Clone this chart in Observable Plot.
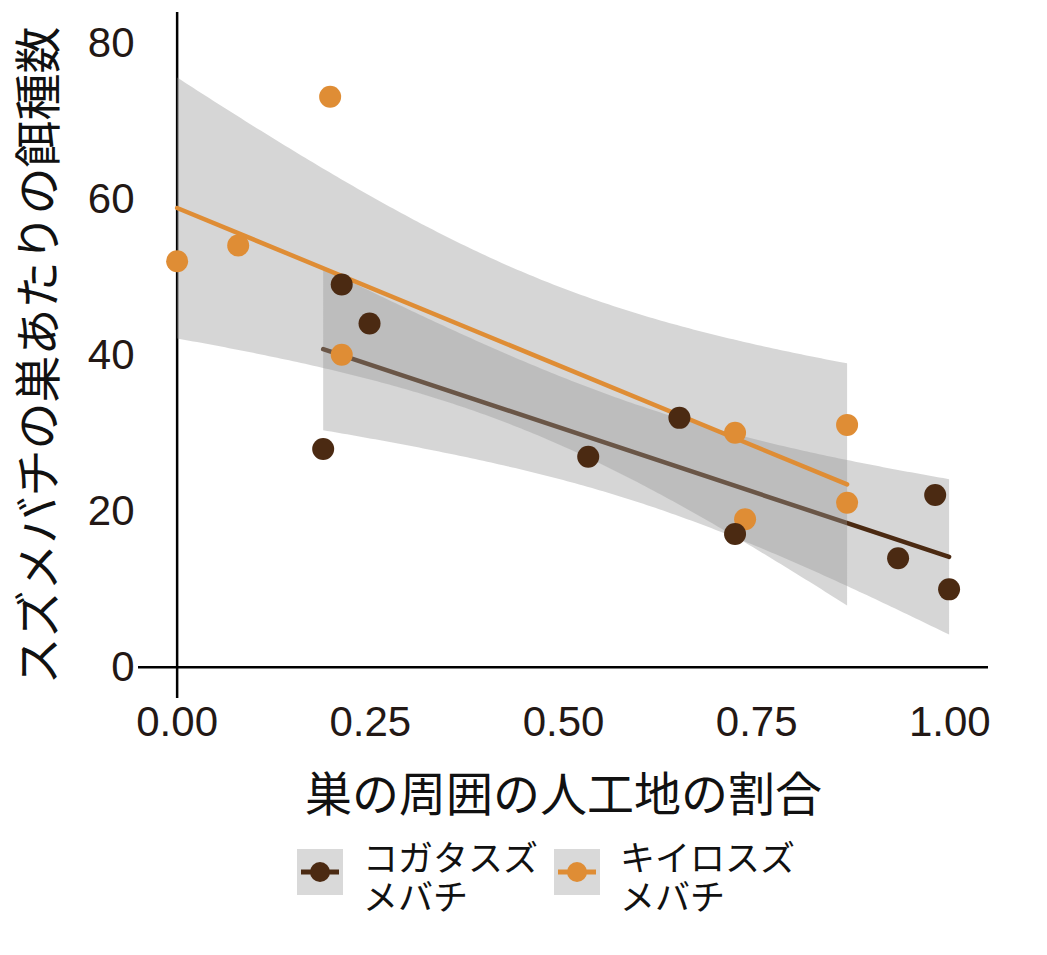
<!DOCTYPE html>
<html>
<head>
<meta charset="utf-8">
<script src="https://cdn.jsdelivr.net/npm/d3@7"></script>
<script src="https://cdn.jsdelivr.net/npm/@observablehq/plot@0.6"></script>
<style>
  body { margin: 0; background: #fff; font-family: "Liberation Sans", "Noto Sans CJK JP", sans-serif; }
  #chart svg { display: block; }
  #legend { display: flex; align-items: flex-start; padding-left: 297px; margin-top: 9px; font-family: "Noto Sans CJK JP", sans-serif; font-size: 35px; line-height: 39px; color: #111; }
  .item { display: flex; align-items: flex-start; }
  .item svg { margin-right: 20px; flex: none; }
  .item div { margin-top: -13px; }
  .item + .item { margin-left: 16px; }
</style>
</head>
<body>
<div id="chart"></div>
<div id="legend"></div>
<script>
const species = ["コガタスズメバチ", "キイロスズメバチ"];
const legendLines = [["コガタスズ", "メバチ"], ["キイロスズ", "メバチ"]];
const colors = ["#4B2A12", "#DF8D35"];

// コガタスズメバチ
const kogataX = [0.189, 0.213, 0.249, 0.532, 0.650, 0.722, 0.933, 0.981, 0.999];
const kogataY = [28.0, 49.1, 44.1, 27.0, 32.0, 17.1, 14.0, 22.1, 10.0];
// キイロスズメバチ
const kiiroX = [0.000, 0.079, 0.198, 0.213, 0.722, 0.735, 0.867, 0.867];
const kiiroY = [52.1, 54.1, 73.2, 40.1, 30.1, 19.0, 31.1, 21.1];

const xTicks = [0, 0.25, 0.5, 0.75, 1];
const yTicks = [0, 20, 40, 60, 80];
const xTitle = "巣の周囲の人工地の割合";
const yTitle = "スズメバチの巣あたりの餌種数";

const kogata = kogataX.map((x, i) => ({x, y: kogataY[i], species: species[0]}));
const kiiro = kiiroX.map((x, i) => ({x, y: kiiroY[i], species: species[1]}));
const all = [...kogata, ...kiiro];

const plot = Plot.plot({
  width: 1047,
  height: 840,
  marginLeft: 138,
  marginRight: 59,
  marginTop: 12,
  marginBottom: 142,
  style: {fontFamily: "'Liberation Sans', 'Noto Sans CJK JP', sans-serif", fontSize: "42px", color: "#231815", background: "#fff"},
  x: {domain: [-0.05, 1.05]},
  y: {domain: [-4, 84]},
  color: {domain: species, range: colors},
  marks: [
    Plot.ruleX([0], {stroke: "#000", strokeWidth: 2.5}),
    Plot.ruleY([0], {stroke: "#000", strokeWidth: 2.5}),
    Plot.linearRegressionY(all, {x: "x", y: "y", stroke: "species", fill: "#999999", fillOpacity: 0.4, strokeWidth: 4.5, ci: 0.95}),
    Plot.dot(kiiro, {x: "x", y: "y", fill: "species", r: 11}),
    Plot.dot(kogata, {x: "x", y: "y", fill: "species", r: 11}),
    Plot.axisX({ticks: xTicks, tickFormat: d3.format(".2f"), tickSize: 0, tickPadding: 8, fontSize: 42,
      label: xTitle, labelAnchor: "center", labelArrow: "none", labelOffset: 112}),
    Plot.axisY({ticks: yTicks, tickSize: 0, tickPadding: 4, fontSize: 42,
      label: yTitle, labelAnchor: "center", labelArrow: "none", labelOffset: 117})
  ]
});
plot.querySelectorAll('[aria-label="x-axis label"] text, [aria-label="y-axis label"] text').forEach(t => {
  t.setAttribute("font-family", "'Noto Sans CJK JP', sans-serif");
  t.setAttribute("font-size", "47");
  t.setAttribute("fill", "#111");
});
document.getElementById("chart").append(plot);

const legend = document.getElementById("legend");
species.forEach((s, i) => {
  const item = document.createElement("div");
  item.className = "item";
  item.innerHTML = `<svg width="46" height="46" viewBox="0 0 46 46"><rect width="46" height="46" fill="#d9d9d9"/><line x1="4" x2="42" y1="23" y2="23" stroke="${colors[i]}" stroke-width="5"/><circle cx="23" cy="23" r="10" fill="${colors[i]}"/></svg><div>${legendLines[i].join("<br>")}</div>`;
  legend.append(item);
});
</script>
</body>
</html>
